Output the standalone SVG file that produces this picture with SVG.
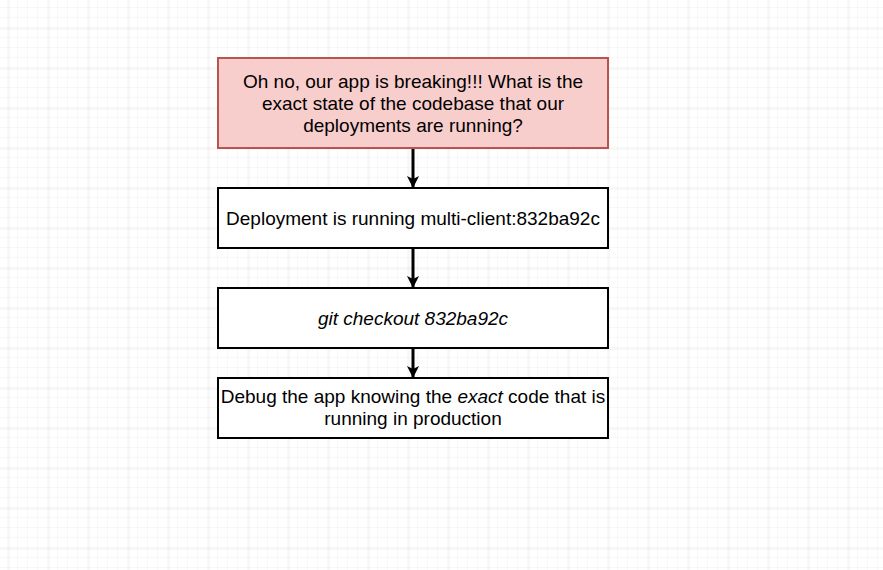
<svg xmlns="http://www.w3.org/2000/svg" width="883" height="570" viewBox="0 0 883 570">
<defs>
<pattern id="minor" x="8" y="8" width="10" height="10" patternUnits="userSpaceOnUse">
<path d="M10 0V10M0 10H10" fill="none" stroke="#f0f0f0" stroke-width="1"/>
</pattern>
<pattern id="major" x="8.5" y="28.5" width="40" height="40" patternUnits="userSpaceOnUse">
<path d="M0 0V40M0 0H40" fill="none" stroke="#dedede" stroke-width="1"/>
</pattern>
<marker id="arr" viewBox="0 0 12 12" refX="11" refY="6" markerWidth="12" markerHeight="12" markerUnits="userSpaceOnUse" orient="auto">
<path d="M0 0L12 6L0 12L3 6Z" fill="#000"/>
</marker>
</defs>
<style>
.box{fill:#fff;stroke:#000;stroke-width:2}
.red{fill:#f8cecc;stroke:#b85450;stroke-width:2}
text{font-family:"Liberation Sans",Arial,sans-serif;font-size:19px;fill:#000;text-anchor:middle}
.conn{stroke:#000;stroke-width:3;fill:none}
</style>
<rect width="883" height="570" fill="#fff"/>
<rect width="883" height="570" fill="url(#minor)"/>
<rect width="883" height="570" fill="url(#major)"/>
<g id="connectors">
<line class="conn" x1="413" y1="148" x2="413" y2="187" marker-end="url(#arr)"/>
<line class="conn" x1="413" y1="248" x2="413" y2="287" marker-end="url(#arr)"/>
<line class="conn" x1="413" y1="348" x2="413" y2="377" marker-end="url(#arr)"/>
</g>
<g id="node1">
<rect class="red" x="218" y="58" width="390" height="90"/>
<text x="413" y="88">Oh no, our app is breaking!!! What is the</text>
<text x="413" y="110">exact state of the codebase that our</text>
<text x="413" y="132">deployments are running?</text>
</g>
<g id="node2">
<rect class="box" x="218" y="188" width="390" height="60"/>
<text x="413" y="225">Deployment is running multi-client:832ba92c</text>
</g>
<g id="node3">
<rect class="box" x="218" y="288" width="390" height="60"/>
<text x="413" y="325" font-style="italic">git checkout 832ba92c</text>
</g>
<g id="node4">
<rect class="box" x="218" y="378" width="390" height="60"/>
<text x="413" y="403">Debug the app knowing the <tspan font-style="italic">exact</tspan> code that is</text>
<text x="413" y="425">running in production</text>
</g>
</svg>
